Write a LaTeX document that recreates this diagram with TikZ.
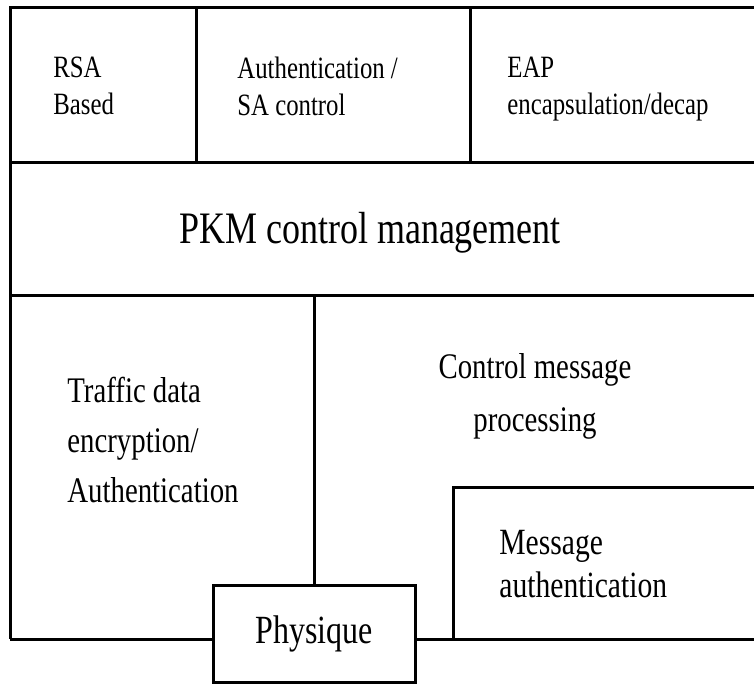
\documentclass[tikz,border=0pt]{standalone}
\usepackage{fontspec}
\setmainfont{Liberation Serif}[FakeStretch=0.8]
\usetikzlibrary{positioning}

\tikzset{
  frame/.style={draw=black, line width=1.5pt},
  lbl/.style={anchor=north west, inner sep=0pt, align=left,
    font=\fontsize{15.5}{18.5}\selectfont},
  biglbl/.style={inner sep=0pt, align=left,
    font=\fontsize{18}{25}\selectfont}
}

\begin{document}
\begin{tikzpicture}[x=0.5pt, y=-0.5pt]
  \clip (0,0) rectangle (754,685);
  \coordinate (bl) at (10,639);

  % outer frame and layers
  \draw[frame] (780,7) -- (10,7) -- (bl);
  \draw[frame] (10,162) -- (780,162);
  \draw[frame] (10,295) -- (780,295);
  \draw[frame] (196,7) -- (196,162);
  \draw[frame] (470,7) -- (470,162);

  % top row
  \node[lbl] (rsa) at (53,57) {RSA\\Based};
  \node[lbl] (authsa) at (237,57) {Authentication /\\SA control};
  \node[lbl] (eap) at (507,57) {EAP\\encapsulation/decap};

  \node[anchor=base, inner sep=0pt, font=\fontsize{22.5}{27}\selectfont] (pkm) at (370,243) {PKM control management};

  % lower part
  \node[biglbl, anchor=north west] (traffic) at (67,377) {Traffic data\\encryption/\\Authentication};
  \node[biglbl, anchor=north, align=center, font=\fontsize{18}{26.5}\selectfont] (ctrlmsg) at (535,353) {Control message\\processing};

  \draw[frame] (453,639) |- (780,487);
  \node[biglbl, anchor=north west, font=\fontsize{18.5}{21.5}\selectfont] (msgauth) at (499,530) {Message\\authentication};

  \node[frame, minimum width=101pt, minimum height=48.5pt, inner sep=0pt,
    font=\fontsize{20}{24}\selectfont] (phys) at (314,633.5) {Physique};
  \draw[frame] (phys.north) -- ++(0,-290);
  \draw[frame] (bl) -- (bl -| phys.west);
  \draw[frame] (bl -| phys.east) -- (780,639);
\end{tikzpicture}
\end{document}
